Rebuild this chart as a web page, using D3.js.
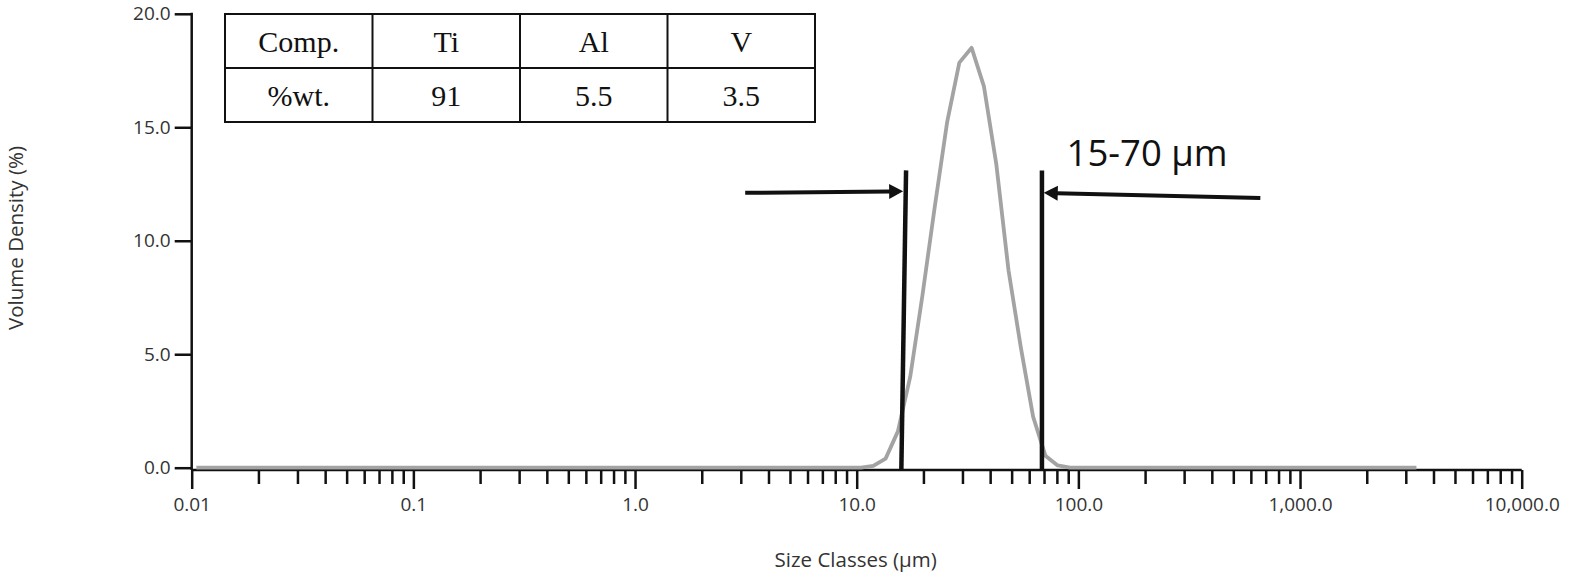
<!DOCTYPE html>
<html><head><meta charset="utf-8">
<script src="https://cdn.jsdelivr.net/npm/d3@7"></script>
<style>body{margin:0;background:#fff} svg{display:block}</style>
</head><body>
<svg id="chart" width="1572" height="579"></svg>
<script>
// ---- data ----
const sizes  = [0.0105, 10.46, 11.88, 13.50, 15.34, 17.43, 19.80, 22.50, 25.56, 29.04, 33.00, 37.50, 42.60, 48.40, 55.00, 62.49, 71.00, 80.67, 91.66, 3350];
const volume = [0,      0,     0.08,  0.4,   1.6,   4.0,   7.6,   11.5,  15.2,  17.85, 18.5,  16.8,  13.4,  8.7,   5.3,   2.25,  0.53,  0.1,   0,     0];
const xMajorTicks = [0.01, 0.1, 1, 10, 100, 1000, 10000];
const xTickLabels = ["0.01", "0.1", "1.0", "10.0", "100.0", "1,000.0", "10,000.0"];
const yTicks = [0, 5, 10, 15, 20];
const yTickLabels = ["0.0", "5.0", "10.0", "15.0", "20.0"];
const tableHeader = ["Comp.", "Ti", "Al", "V"];
const tableValues = ["%wt.", "91", "5.5", "3.5"];
const rangeText = "15-70 µm";
const xTitle = "Size Classes (µm)";
const yTitle = "Volume Density (%)";
// annotation anchors (data units)
const leftMarker = {bottom: 15.9, top: 16.7, yTop: 13.1};
const rightMarker = {size: 68.5, yTop: 13.1};
const leftArrow = {from: [3.14, 12.11], to: [16.2, 12.18]};
const rightArrow = {from: [662, 11.88], to: [69.8, 12.11]};
const rangeTextPos = [88.5, 13.3];

// ---- scales ----
const svg = d3.select("#chart");
const x = d3.scaleLog().domain([0.01, 10000]).range([191.7, 1521.7]);
const y = d3.scaleLinear().domain([0, 20]).range([467.7, 13.8]);
const axisY = y(0) + 2.3;
const font = "'Open Sans', 'DejaVu Sans', sans-serif";
const ink = "#111";
const textInk = "#333";

// ---- x axis ----
const allXTicks = [];
xMajorTicks.forEach((d, i) => {
  allXTicks.push(d);
  if (i < xMajorTicks.length - 1) for (let k = 2; k <= 9; k++) allXTicks.push(d * k);
});
const isMajor = v => xMajorTicks.some(m => Math.abs(m - v) / m < 1e-9);
const labelFor = v => { const i = xMajorTicks.findIndex(m => Math.abs(m - v) / m < 1e-9); return i >= 0 ? xTickLabels[i] : ""; };

const gx = svg.append("g").attr("transform", `translate(0,${axisY})`)
  .call(d3.axisBottom(x).tickValues(allXTicks).tickSizeOuter(0).tickSize(14).tickFormat(labelFor));
gx.select(".domain").remove();
gx.selectAll(".tick line").attr("stroke", ink).attr("stroke-width", 2.5)
  .attr("y2", d => isMajor(d) ? 19 : 14);
gx.selectAll(".tick text").attr("y", 28).attr("dy", "0.71em")
  .attr("font-family", font).attr("font-size", 19).attr("fill", textInk);
svg.append("line").attr("x1", x(0.01)).attr("x2", x(10000)).attr("y1", axisY).attr("y2", axisY)
  .attr("stroke", ink).attr("stroke-width", 2.5);

// ---- y axis ----
const gy = svg.append("g").attr("transform", `translate(${x(0.01)},0)`)
  .call(d3.axisLeft(y).tickValues(yTicks).tickSize(17).tickPadding(4).tickFormat((d, i) => yTickLabels[i]));
gy.select(".domain").remove();
gy.selectAll(".tick line").attr("stroke", ink).attr("stroke-width", 2.5);
gy.selectAll(".tick text").attr("font-family", font).attr("font-size", 19).attr("fill", textInk);
svg.append("line").attr("x1", x(0.01)).attr("x2", x(0.01)).attr("y1", y(20) - 1).attr("y2", axisY)
  .attr("stroke", ink).attr("stroke-width", 2.5);

// ---- titles ----
svg.append("text").attr("x", x(10) - 1).attr("y", 567).attr("text-anchor", "middle")
  .attr("font-family", font).attr("font-size", 20.5).attr("fill", textInk).text(xTitle);
svg.append("text").attr("transform", "translate(23,238) rotate(-90)").attr("text-anchor", "middle")
  .attr("font-family", font).attr("font-size", 20.5).attr("fill", textInk).text(yTitle);

// ---- curve ----
const line = d3.line().x((d, i) => x(sizes[i])).y(d => y(d));
svg.append("path").datum(volume).attr("d", line).attr("fill", "none")
  .attr("stroke", "#a3a3a3").attr("stroke-width", 3.8).attr("stroke-linejoin", "round");

// ---- markers ----
svg.append("line").attr("x1", x(leftMarker.bottom)).attr("y1", axisY)
  .attr("x2", x(leftMarker.top)).attr("y2", y(leftMarker.yTop))
  .attr("stroke", ink).attr("stroke-width", 4.5);
svg.append("line").attr("x1", x(rightMarker.size)).attr("y1", axisY)
  .attr("x2", x(rightMarker.size)).attr("y2", y(rightMarker.yTop))
  .attr("stroke", ink).attr("stroke-width", 4.5);

function arrow(a) {
  const x0 = x(a.from[0]), y0 = y(a.from[1]), x1 = x(a.to[0]), y1 = y(a.to[1]);
  const ang = Math.atan2(y1 - y0, x1 - x0);
  const L = 14, H = 7.5;
  const bx = x1 - L * Math.cos(ang), by = y1 - L * Math.sin(ang);
  svg.append("line").attr("x1", x0).attr("y1", y0).attr("x2", bx + Math.cos(ang)).attr("y2", by + Math.sin(ang))
    .attr("stroke", ink).attr("stroke-width", 4);
  const px = -Math.sin(ang), py = Math.cos(ang);
  svg.append("path").attr("d", `M${x1},${y1}L${bx + px * H},${by + py * H}L${bx - px * H},${by - py * H}Z`)
    .attr("fill", ink);
}
arrow(leftArrow);
arrow(rightArrow);

svg.append("text").attr("x", x(rangeTextPos[0])).attr("y", y(rangeTextPos[1]))
  .attr("font-family", font).attr("font-size", 36.5).attr("fill", ink).text(rangeText);

// ---- composition table ----
const cols = d3.scaleBand().domain(d3.range(tableHeader.length)).range([225, 815]);
const rows = d3.scaleBand().domain([0, 1]).range([14, 122]);
const tg = svg.append("g");
tg.append("rect").attr("x", 225).attr("y", 14).attr("width", 590).attr("height", 108)
  .attr("fill", "#fff").attr("stroke", ink).attr("stroke-width", 2);
tg.append("line").attr("x1", 225).attr("x2", 815).attr("y1", rows(1)).attr("y2", rows(1))
  .attr("stroke", ink).attr("stroke-width", 2);
d3.range(1, tableHeader.length).forEach(i => {
  tg.append("line").attr("x1", cols(i)).attr("x2", cols(i)).attr("y1", 14).attr("y2", 122)
    .attr("stroke", ink).attr("stroke-width", 2);
});
[tableHeader, tableValues].forEach((r, ri) => {
  tg.selectAll(null).data(r).enter().append("text")
    .attr("x", (d, i) => cols(i) + cols.bandwidth() / 2)
    .attr("y", rows(ri) + rows.bandwidth() / 2)
    .attr("dy", "0.35em").attr("text-anchor", "middle")
    .attr("font-family", "'Liberation Serif', 'Times New Roman', serif")
    .attr("font-size", 30).attr("fill", ink).text(d => d);
});
</script>
</body></html>
